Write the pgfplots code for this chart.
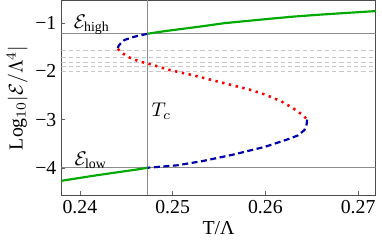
\documentclass[border=0pt]{standalone}
\usepackage{fontspec}
\setmainfont{Liberation Serif}
\usepackage{pgfplots}
\pgfplotsset{compat=1.18}
\definecolor{mgreen}{RGB}{0,170,0}
\definecolor{mblue}{RGB}{0,0,170}
\definecolor{mred}{RGB}{255,0,0}
\begin{document}
\begin{tikzpicture}
\begin{axis}[
  scale only axis,
  width=159pt, height=98.5pt,
  xmin=0.2380, xmax=0.2719,
  ymin=-4.57, ymax=-0.53,
  xtick={0.24,0.25,0.26,0.27},
  xticklabels={0.24,0.25,0.26,0.27},
  ytick={-4,-3,-2,-1},
  yticklabels={−4,−3,−2,−1},
  tick pos=left, tick align=inside,
  major tick length=2pt,
  axis line style={black!70, line width=0.5pt},
  tick style={black!60},
  xlabel={T/Λ},
  ylabel={Log$_{10}|\mathcal{E}/\Lambda^4|$},
  xlabel style={yshift=3pt},
  ylabel style={yshift=-3pt},
  xticklabel style={yshift=1pt},
  yticklabel style={xshift=1pt},
  clip=true,
]
% gray horizontal dashed lines
\addplot[black!22, line width=0.7pt, dash pattern=on 2.2pt off 1.5pt] coordinates {(0.2380,-1.57) (0.2719,-1.57)};
\addplot[black!22, line width=0.7pt, dash pattern=on 2.2pt off 1.5pt] coordinates {(0.2380,-1.71) (0.2719,-1.71)};
\addplot[black!22, line width=0.7pt, dash pattern=on 2.2pt off 1.5pt] coordinates {(0.2380,-1.81) (0.2719,-1.81)};
\addplot[black!22, line width=0.7pt, dash pattern=on 2.2pt off 1.5pt] coordinates {(0.2380,-1.90) (0.2719,-1.90)};
\addplot[black!22, line width=0.7pt, dash pattern=on 2.2pt off 1.5pt] coordinates {(0.2380,-2.00) (0.2719,-2.00)};
% reference lines
\addplot[black!45, line width=0.5pt] coordinates {(0.2380,-1.22) (0.2719,-1.22)};
\addplot[black!45, line width=0.5pt] coordinates {(0.2380,-4.00) (0.2719,-4.00)};
\addplot[black!45, line width=0.5pt] coordinates {(0.2473,-4.57) (0.2473,-0.53)};
% green stable branches
\addplot[mgreen, line width=1.1pt] coordinates {
 (0.2380,-4.27) (0.2400,-4.21) (0.2420,-4.15) (0.2440,-4.095) (0.2460,-4.04) (0.2473,-4.00)};
\addplot[mgreen, line width=1.1pt] coordinates {
 (0.2473,-1.22) (0.2490,-1.17) (0.2510,-1.12) (0.2530,-1.07) (0.2556,-1.00) (0.2580,-0.955)
 (0.2607,-0.905) (0.2630,-0.865) (0.2658,-0.825) (0.2690,-0.785) (0.2719,-0.75)};
% blue metastable branches
\addplot[mblue, line width=1.1pt, dash pattern=on 3pt off 1.8pt] coordinates {
 (0.24409,-1.52) (0.24418,-1.47) (0.2444,-1.42) (0.2448,-1.35) (0.2458,-1.285) (0.2466,-1.25) (0.2473,-1.22)};
\addplot[mblue, line width=1.1pt, dash pattern=on 3pt off 1.8pt] coordinates {
 (0.26450,-3.00) (0.26445,-3.10) (0.26420,-3.22) (0.26350,-3.33) (0.26241,-3.41) (0.25996,-3.565)
 (0.25658,-3.725) (0.2532,-3.862) (0.25044,-3.95) (0.2473,-4.00)};
% red unstable branch
\addplot[mred, line width=1.3pt, dash pattern=on 1.2pt off 2.3pt] coordinates {
 (0.24409,-1.534) (0.2445,-1.613) (0.24532,-1.711) (0.24635,-1.790) (0.24757,-1.850)
 (0.24972,-1.975) (0.25218,-2.080) (0.25423,-2.180) (0.25627,-2.280) (0.25832,-2.380)
 (0.25996,-2.480) (0.2617,-2.62) (0.26303,-2.77) (0.26405,-2.91) (0.26450,-3.00)};
\node[anchor=west, inner sep=0pt] at (axis cs:0.2393,-1.03) {$\mathcal{E}_{\mathrm{high}}$};
\node[anchor=west, inner sep=0pt] at (axis cs:0.2394,-3.84) {$\mathcal{E}_{\mathrm{low}}$};
\node[anchor=west, inner sep=0pt] at (axis cs:0.2477,-2.82) {$T_c$};
\end{axis}
\end{tikzpicture}
\end{document}
